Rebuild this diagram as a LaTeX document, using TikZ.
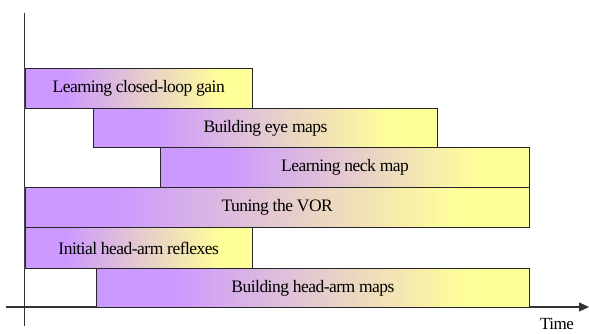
\documentclass[tikz,border=0pt]{standalone}
\usepackage{fontspec}
\setmainfont{Liberation Serif}[LetterSpace=-3]
\usetikzlibrary{arrows.meta}
\definecolor{barpurple}{HTML}{CC99FF}
\definecolor{baryellow}{HTML}{FFFF99}
\definecolor{axisgray}{HTML}{333333}
\pgfdeclarehorizontalshading{bargrad}{100bp}{color(0bp)=(barpurple); color(34bp)=(barpurple); color(68bp)=(baryellow); color(100bp)=(baryellow)}
\tikzset{
  bar/.style={draw=black!85, line width=0.9pt, shading=bargrad, anchor=north west,
    inner sep=0pt, font=\fontsize{17.5}{19}\selectfont, text=black},
  axis/.style={draw=axisgray, line width=1.1pt},
}
\begin{document}
\begin{tikzpicture}[x=1pt,y=-1pt]
\useasboundingbox (0,0) rectangle (589,333);
\draw[axis] (24.5,13) coordinate (ytop) -- (24.5,326) coordinate (ybot);
\coordinate (xl) at (6,307);
\coordinate (xr) at (589,307);
\draw[axis, -{Triangle[length=10pt,width=9pt]}] (xl) -- (xr);
\node[bar, minimum width=227.5pt, minimum height=40pt] (b1) at (24.5,68) {Learning closed-loop gain};
\node[bar, minimum width=344pt, minimum height=39pt] (b2) at (93,108) {Building eye maps};
\node[bar, minimum width=369pt, minimum height=40pt] (b3) at (160,147) {Learning neck map};
\node[bar, minimum width=504.5pt, minimum height=40pt] (b4) at (24.5,187) {Tuning the VOR};
\node[bar, minimum width=227.5pt, minimum height=41pt] (b5) at (24.5,227) {Initial head-arm reflexes};
\node[bar, minimum width=433pt, minimum height=39pt] (b6) at (96,268) {Building head-arm maps};
\node[anchor=base, inner sep=0pt, font=\fontsize{17}{18}\selectfont] (time) at (557,329) {Time};
\end{tikzpicture}
\end{document}
